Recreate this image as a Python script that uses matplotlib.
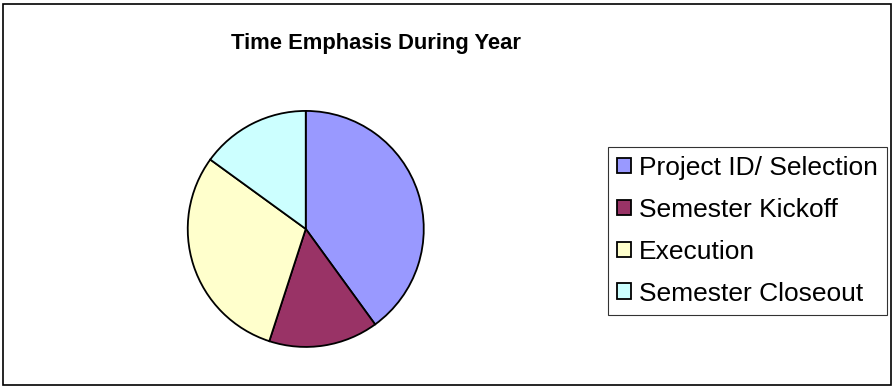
import matplotlib.pyplot as plt
from matplotlib.patches import Rectangle

plt.rcParams['font.family'] = ['Liberation Sans', 'DejaVu Sans']

phases = ["Project ID/ Selection", "Semester Kickoff", "Execution", "Semester Closeout"]
share = [40, 15, 30, 15]
colors = ["#9999FF", "#993366", "#FFFFCC", "#CCFFFF"]

fig = plt.figure(figsize=(8.94, 3.89), dpi=100)

# outer chart-area border
fig.patches.append(Rectangle((0.003, 0.01), 0.994, 0.98, transform=fig.transFigure,
                             fill=False, edgecolor="black", linewidth=1.2))

ax = fig.add_axes([0.210, 0.108, 0.264, 0.607])
wedges, _ = ax.pie(share, colors=colors, startangle=90, counterclock=False,
                   wedgeprops=dict(edgecolor="black", linewidth=1.3))
ax.set_xlim(-1.0, 1.0)
ax.set_ylim(-1.0, 1.0)
ax.set_aspect("equal")

fig.text(0.421, 0.888, "Time Emphasis During Year", ha="center", va="center",
         fontsize=15.8, fontweight="bold")

leg = fig.legend(wedges, phases, loc="center", bbox_to_anchor=(0.836, 0.407),
                 fontsize=19, frameon=True, fancybox=False, edgecolor="black",
                 handlelength=0.53, handleheight=0.53, handletextpad=0.3,
                 labelspacing=0.68, borderpad=0.35, borderaxespad=0)
leg.get_frame().set_linewidth(0.8)

fig.savefig("out.png", dpi=100)
